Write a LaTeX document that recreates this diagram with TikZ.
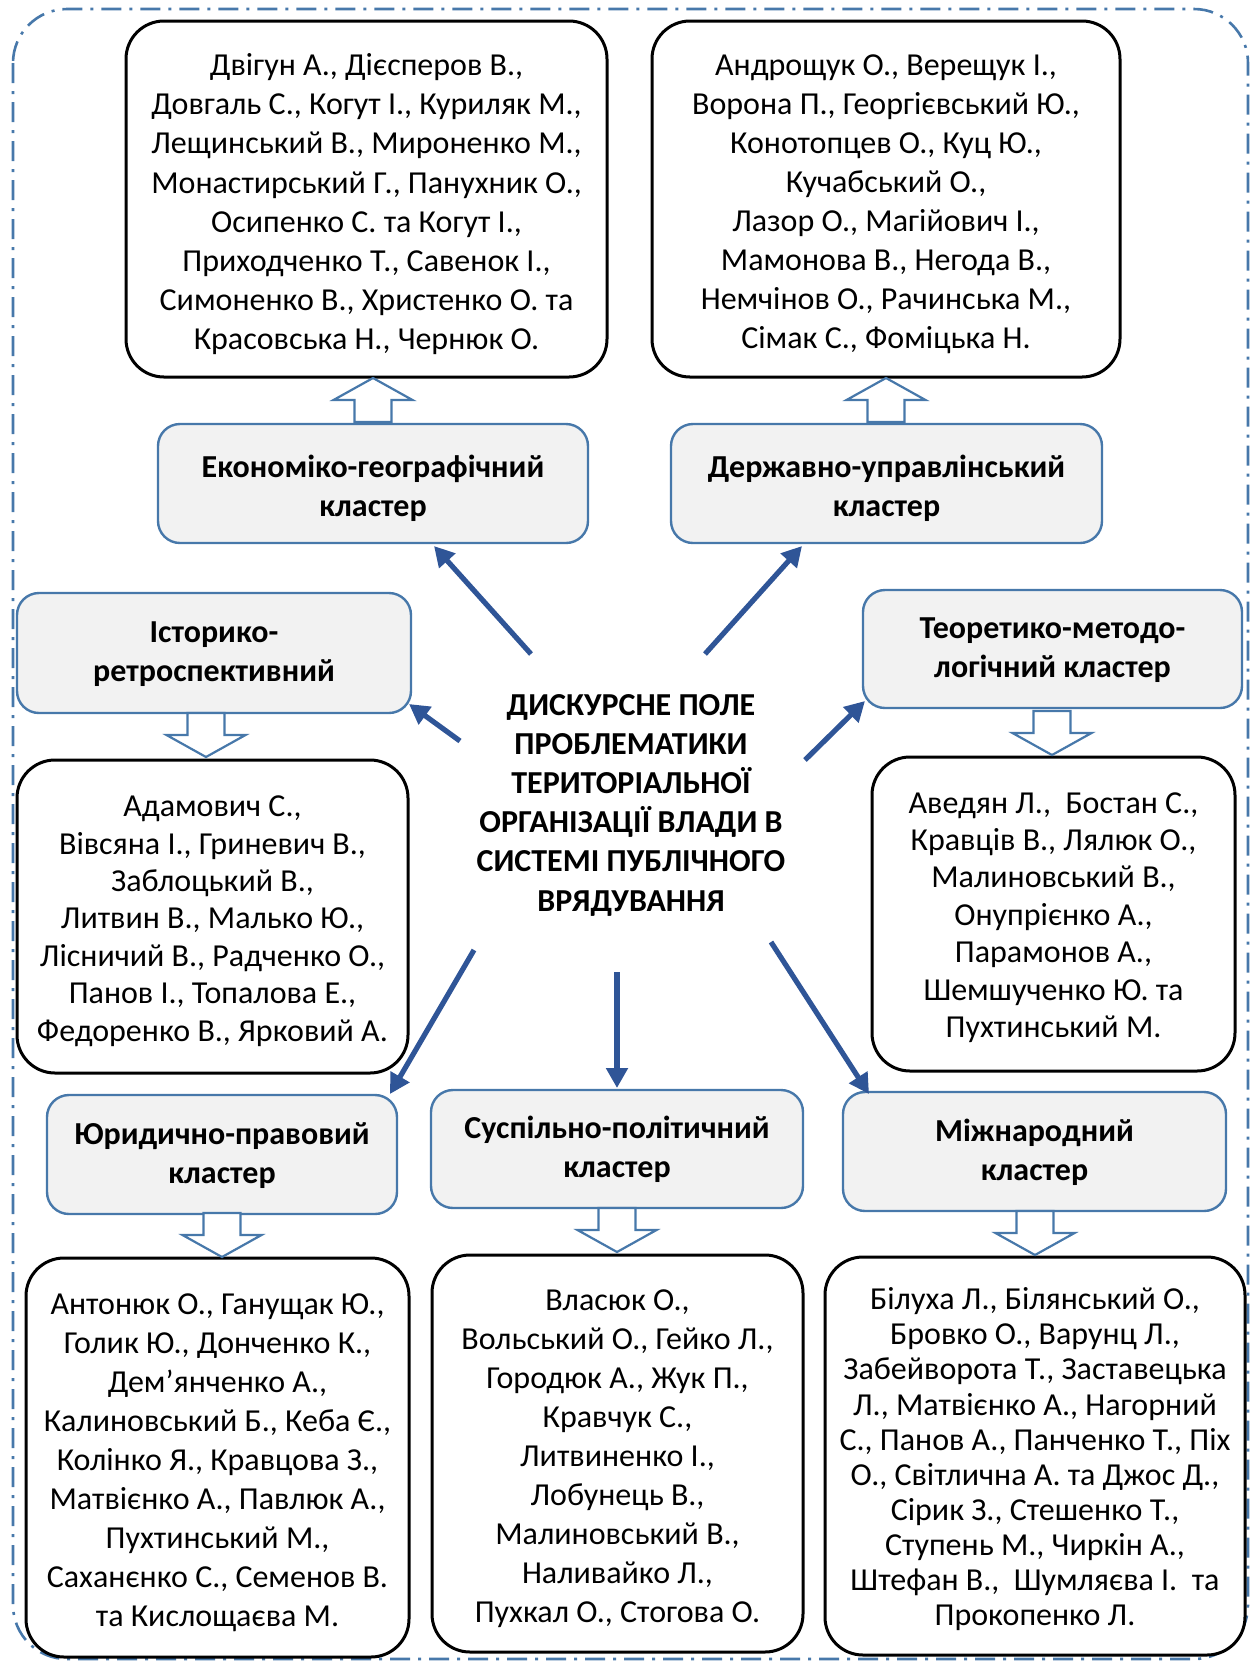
\documentclass[tikz,border=0pt]{standalone}
\usepackage{fontspec}
\setmainfont{Carlito}
\usetikzlibrary{arrows.meta}
\definecolor{boxblue}{RGB}{71,120,170}
\definecolor{arrowblue}{RGB}{47,85,151}
\definecolor{boxgray}{RGB}{242,242,242}
\tikzset{
  listbox/.style={draw=black, line width=1.5pt, rounded corners=19pt, fill=white, inner sep=0pt},
  listtext/.style={align=center, inner sep=0pt, font=\fontsize{16}{19.55}\selectfont},
  clusterbox/.style={draw=boxblue, line width=1.2pt, rounded corners=11pt, fill=boxgray, inner sep=0pt},
  clustertext/.style={align=center, inner sep=0pt, font=\bfseries\fontsize{16}{19.5}\selectfont},
  flowarrow/.style={draw=arrowblue, line width=2.6pt, -{Triangle[length=10pt,width=10.5pt]}},
  hollowarr/.style={draw=boxblue, line width=1.1pt, fill=white, line join=miter},
  outerframe/.style={draw=boxblue, line width=1.3pt, rounded corners=27pt,
    dash pattern=on 10pt off 4pt on 1.5pt off 4pt},
  downarr/.pic={\draw[hollowarr] (-18.5,0) -- (18.5,0) -- (18.5,22) -- (39.5,22) -- (0,44) -- (-39.5,22) -- (-18.5,22) -- cycle;},
  uparr/.pic={\draw[hollowarr] (0,0) -- (39.5,22) -- (18.5,22) -- (18.5,44) -- (-18.5,44) -- (-18.5,22) -- (-39.5,22) -- cycle;}
}
\begin{document}
\begin{tikzpicture}[x=0.5pt,y=-0.5pt]
\useasboundingbox (0,0) rectangle (1256,1662);
\draw[outerframe] (13,9) rectangle (1248,1659);

% top list boxes
\node[listbox, minimum width=240.5pt, minimum height=178pt] (tl) at (366.5,199) {};
\node[listtext] (tlt) at ([yshift=-2.6pt]tl.center)
 {Двігун А., Дієсперов В.,\\ Довгаль С., Когут І., Куриляк М.,\\ Лещинський В., Мироненко М.,\\ Монастирський Г., Панухник О.,\\ Осипенко С. та Когут І.,\\ Приходченко Т., Савенок І.,\\ Симоненко В., Христенко О. та\\ Красовська Н., Чернюк О.};
\node[listbox, minimum width=234pt, minimum height=178pt] (tr) at (886,199) {};
\node[listtext] (trt) at ([yshift=-2.6pt]tr.center)
 {Андрощук О., Верещук І.,\\ Ворона П., Георгієвський Ю.,\\ Конотопцев О., Куц Ю.,\\ Кучабський О.,\\ Лазор О., Магійович І.,\\ Мамонова В., Негода В.,\\ Немчінов О., Рачинська М.,\\ Сімак С., Фоміцька Н.};

% cluster boxes
\node[clusterbox, minimum width=215pt, minimum height=59.5pt] (econ) at (373,483.5) {};
\node[clustertext] (econt) at ([yshift=-2.2pt]econ.center) {Економіко-географічний\\ кластер};
\node[clusterbox, minimum width=215.5pt, minimum height=59.5pt] (state) at (886.5,483.5) {};
\node[clustertext] (statet) at ([yshift=-2.2pt]state.center) {Державно-управлінський\\ кластер};
\node[clusterbox, minimum width=197pt, minimum height=60pt] (hist) at (214,653) {};
\node[clustertext] (histt) at ([yshift=-0.5pt]hist.center) {Історико-\\ ретроспективний};
\node[clusterbox, minimum width=189.5pt, minimum height=59pt] (theo) at (1052.5,649) {};
\node[clustertext] (theot) at ([yshift=-0.5pt]theo.center) {Теоретико-методо-\\ логічний кластер};
\node[clusterbox, minimum width=175pt, minimum height=59.5pt] (legal) at (222,1154.5) {};
\node[clustertext] (legalt) at ([yshift=-0.6pt]legal.center) {Юридично-правовий\\ кластер};
\node[clusterbox, minimum width=186pt, minimum height=59pt] (soc) at (617,1149) {};
\node[clustertext] (soct) at ([yshift=-0.2pt]soc.center) {Суспільно-політичний\\ кластер};
\node[clusterbox, minimum width=191.5pt, minimum height=59.5pt] (intl) at (1034.5,1151.5) {};
\node[clustertext] (intlt) at ([yshift=-0.4pt]intl.center) {Міжнародний\\ кластер};

% middle list boxes
\node[listbox, minimum width=195.5pt, minimum height=156.5pt] (hl) at (212.5,916.5) {};
\node[listtext, font=\fontsize{16}{18.7}\selectfont] (hlt) at ([yshift=-2.3pt]hl.center)
 {Адамович С.,\\ Вівсяна І., Гриневич В.,\\ Заблоцький В.,\\ Литвин В., Малько Ю.,\\ Лісничий В., Радченко О.,\\ Панов І., Топалова Е.,\\ Федоренко В., Ярковий А.};
\node[listbox, minimum width=181.5pt, minimum height=157pt] (thl) at (1053.5,914) {};
\node[listtext, font=\fontsize{16}{18.7}\selectfont] (thlt) at ([yshift=-1.7pt]thl.center)
 {Аведян Л.,\ \ Бостан С.,\\ Кравців В., Лялюк О.,\\ Малиновський В.,\\ Онупрієнко А.,\\ Парамонов А.,\\ Шемшученко Ю. та\\ Пухтинський М.};

% bottom list boxes
\node[listbox, minimum width=191.5pt, minimum height=199.5pt] (ll) at (217.5,1457.5) {};
\node[listtext] (llt) at ([yshift=-2.6pt]ll.center)
 {Антонюк О., Ганущак Ю.,\\ Голик Ю., Донченко К.,\\ Дем’янченко А.,\\ Калиновський Б., Кеба Є.,\\ Колінко Я., Кравцова З.,\\ Матвієнко А., Павлюк А.,\\ Пухтинський М.,\\ Саханєнко С., Семенов В.\\ та Кислощаєва М.};
\node[listbox, minimum width=185.5pt, minimum height=198.5pt] (sl) at (617.5,1453.5) {};
\node[listtext] (slt) at ([yshift=-2.6pt]sl.center)
 {Власюк О.,\\ Вольський О., Гейко Л.,\\ Городюк А., Жук П.,\\ Кравчук С.,\\ Литвиненко І.,\\ Лобунець В.,\\ Малиновський В.,\\ Наливайко Л.,\\ Пухкал О., Стогова О.};
\node[listbox, minimum width=210pt, minimum height=199pt] (il) at (1035,1456) {};
\node[listtext, font=\fontsize{16}{17.55}\selectfont] (ilt) at ([yshift=-1.6pt]il.center)
 {Білуха Л., Білянський О.,\\ Бровко О., Варунц Л.,\\ Забейворота Т., Заставецька\\ Л., Матвієнко А., Нагорний\\ С., Панов А., Панченко Т., Піх\\ О., Світлична А. та Джос Д.,\\ Сірик З., Стешенко Т.,\\ Ступень М., Чиркін А.,\\ Штефан В.,\ \ Шумляєва І.\ \ та\\ Прокопенко Л.};

% central node
\node[align=center, inner sep=0pt, font=\bfseries\fontsize{16}{19.6}\selectfont] (core) at (631,805)
 {ДИСКУРСНЕ ПОЛЕ\\ ПРОБЛЕМАТИКИ\\ ТЕРИТОРІАЛЬНОЇ\\ ОРГАНІЗАЦІЇ ВЛАДИ В\\ СИСТЕМІ ПУБЛІЧНОГО\\ ВРЯДУВАННЯ};

% hollow block arrows
\pic at (373,378) {uparr};
\pic at (886,378) {uparr};
\pic at (206,713) {downarr};
\pic at (1052,711) {downarr};
\pic at (222,1213) {downarr};
\pic at (617,1208) {downarr};
\pic at (1035,1211) {downarr};

% flow arrow endpoints
\coordinate (s1) at (531,654); \coordinate (e1) at (434,546);
\coordinate (s2) at (705,654); \coordinate (e2) at (802,546);
\coordinate (s3) at (460,741); \coordinate (e3) at (409,704);
\coordinate (s4) at (805,760); \coordinate (e4) at (865,701);
\coordinate (s5) at (474,950); \coordinate (e5) at (390,1094);
\coordinate (s6) at (617,972); \coordinate (e6) at (617,1088);
\coordinate (s7) at (771,942); \coordinate (e7) at (869,1094);
\draw[flowarrow] (s1) -- (e1);
\draw[flowarrow] (s2) -- (e2);
\draw[flowarrow] (s3) -- (e3);
\draw[flowarrow] (s4) -- (e4);
\draw[flowarrow] (s5) -- (e5);
\draw[flowarrow] (s6) -- (e6);
\draw[flowarrow] (s7) -- (e7);
\end{tikzpicture}
\end{document}
